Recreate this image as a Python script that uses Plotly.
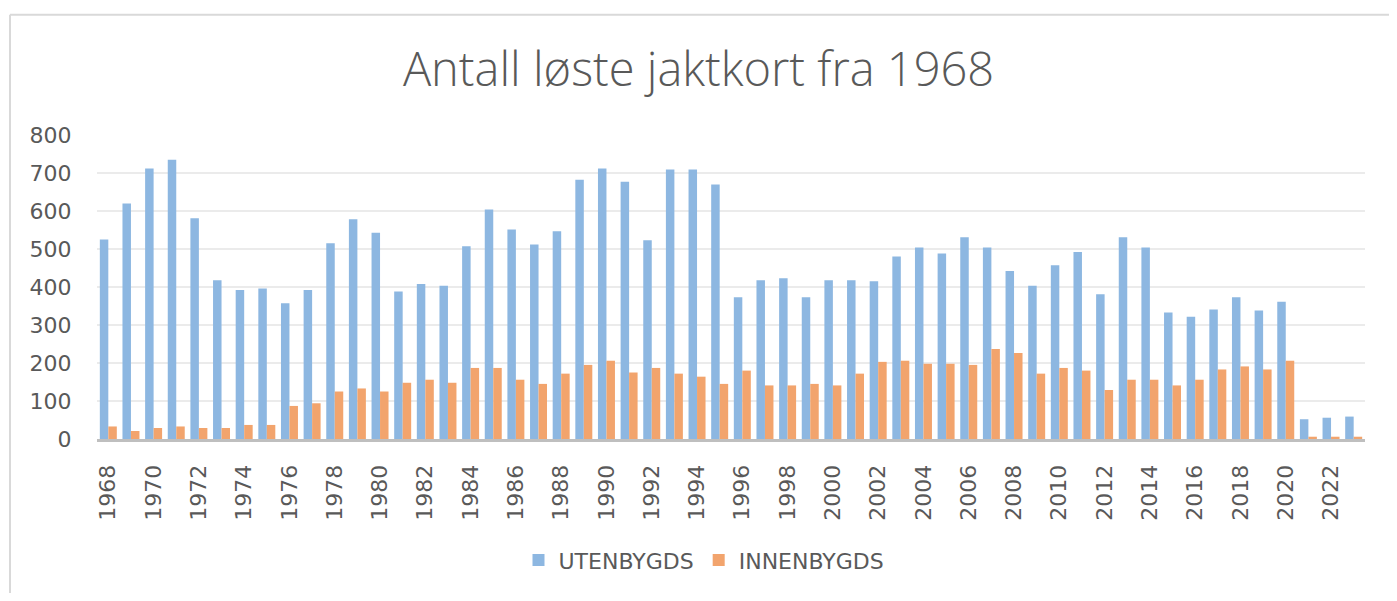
import plotly.graph_objects as go

years = [str(y) for y in range(1968, 2024)]
utenbygds = [525, 620, 712, 735, 581, 418, 392, 396, 357, 392, 515, 578, 543, 388,
             408, 403, 507, 604, 551, 512, 547, 682, 712, 677, 523, 709, 709, 670,
             373, 418, 423, 373, 418, 418, 415, 480, 504, 488, 531, 504, 442, 403,
             457, 492, 381, 531, 504, 333, 322, 341, 373, 338, 361, 52, 56, 59]
innenbygds = [33, 21, 29, 33, 29, 29, 37, 37, 87, 94, 125, 133, 125, 148,
              156, 148, 187, 187, 156, 145, 172, 195, 206, 175, 187, 172, 164, 145,
              180, 141, 141, 145, 141, 172, 203, 206, 198, 198, 195, 237, 226, 172,
              187, 180, 129, 156, 156, 141, 156, 183, 191, 183, 206, 6, 6, 6]
tick_years = [str(y) for y in range(1968, 2024, 2)]
y_ticks = [0, 100, 200, 300, 400, 500, 600, 700, 800]

# page body has an 8px margin; figure coordinates are page coordinates minus 8
OFF = 8
W, H = 1397 - 2 * OFF, 601 - 2 * OFF
L = 97 - OFF
T = 135 - OFF
R = W - (1365 - OFF)
B = H - (441 - OFF)
pw, ph = W - L - R, H - T - B

def px(x):
    return (x - OFF - L) / pw

def py(y):
    return (H - B - (y - OFF)) / ph

fig = go.Figure()
fig.add_trace(go.Bar(x=years, y=utenbygds, name="UTENBYGDS",
                     marker=dict(color="#8DB7E1", line=dict(width=0))))
fig.add_trace(go.Bar(x=years, y=innenbygds, name="INNENBYGDS",
                     marker=dict(color="#F2A46D", line=dict(width=0))))

tick_font = dict(family="DejaVu Sans, sans-serif", size=22, color="#595959")
border = dict(color="#D9D9D9", width=2)

fig.update_layout(
    width=W, height=H,
    margin=dict(l=L, r=R, t=T, b=B, pad=0),
    paper_bgcolor="white", plot_bgcolor="white",
    barmode="group", bargap=0.25, bargroupgap=0,
    title=dict(text="Antall løste jaktkort fra 1968", x=0.5, xanchor="center",
               y=1 - (70 - OFF) / H, yanchor="middle",
               font=dict(family="Open Sans, sans-serif", size=47, color="#595959", weight=300)),
    showlegend=True,
    legend=dict(orientation="h", x=0.5 - 27 / pw, xanchor="center", y=py(563), yanchor="middle",
                font=dict(family="DejaVu Sans, sans-serif", size=22, color="#595959"),
                itemwidth=30, tracegroupgap=0, bgcolor="rgba(0,0,0,0)"),
    xaxis=dict(type="category", tickmode="array", tickvals=tick_years, ticktext=tick_years,
               tickangle=-90, tickfont=tick_font, showgrid=False, zeroline=False,
               showline=True, linecolor="#BFBFBF", linewidth=3,
               ticks="outside", ticklen=14, tickcolor="rgba(0,0,0,0)"),
    yaxis=dict(range=[0, 800], tickmode="array", tickvals=y_ticks, tickfont=tick_font,
               showgrid=True, gridcolor="#EBEBEB", gridwidth=2, zeroline=False,
               showline=False, ticks="outside", ticklen=20, tickcolor="rgba(0,0,0,0)"),
    shapes=[
        dict(type="line", xref="paper", yref="paper",
             x0=px(10), x1=px(10), y0=py(640), y1=py(14), line=border, layer="below"),
        dict(type="line", xref="paper", yref="paper",
             x0=px(10), x1=px(1420), y0=py(14), y1=py(14), line=border, layer="below"),
    ],
)

fig.write_html("out.html")
